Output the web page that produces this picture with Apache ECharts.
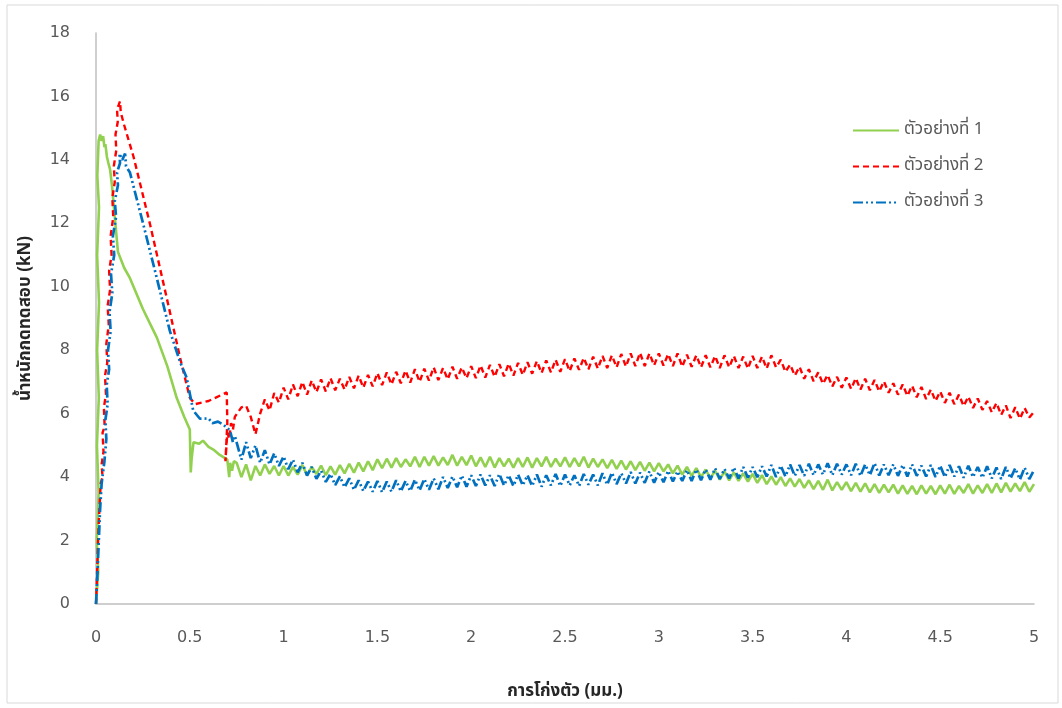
<!DOCTYPE html>
<html>
<head>
<meta charset="utf-8">
<script src="https://cdn.jsdelivr.net/npm/echarts@6/dist/echarts.min.js"></script>
<style>
  html, body { margin: 0; padding: 0; background: #fff; }
  #chart { width: 1062px; height: 708px; }
</style>
</head>
<body>
<div id="chart"></div>
<script>
// series names (legend)
const names = ['ตัวอย่างที่ 1', 'ตัวอย่างที่ 2', 'ตัวอย่างที่ 3'];

// x ticks
const xTicks = [0, 0.5, 1, 1.5, 2, 2.5, 3, 3.5, 4, 4.5, 5];

// first part of each curve (loading peak, drop) as [deflection, load]
const headG = [[0,0],[0.012,1],[0.004,2],[0.014,3.5],[0.005,5],[0.015,6.5],[0.006,8],[0.016,9.5],[0.006,11],
  [0.016,12.5],[0.007,13.5],[0.014,14.6],[0.022,14.8],[0.03,14.6],[0.038,14.75],[0.045,14.4],[0.05,14.5],
  [0.058,14.1],[0.066,13.9],[0.075,13.7],[0.085,13.2],[0.1,12.2],[0.117,11.1],[0.15,10.6],[0.181,10.27],
  [0.25,9.3],[0.325,8.39],[0.38,7.5],[0.43,6.5],[0.47,5.9],[0.5,5.5],[0.505,4.15],[0.51,4.6],[0.52,5.1],
  [0.53,5.15],[0.55,5.05],[0.57,5.15],[0.6,4.95],[0.63,4.85],[0.66,4.7],[0.7,4.55],[0.71,4.0],[0.715,4.45],
  [0.725,4.2],[0.735,4.5]];

const headR = [[0,0],[0.005,0.8],[0.01,1.8],[0.015,2.6],[0.02,3.2],[0.025,3.8],[0.035,4.0],[0.03,4.4],
  [0.04,4.8],[0.035,5.4],[0.046,5.6],[0.042,6.2],[0.053,6.6],[0.048,7.2],[0.06,7.6],[0.055,8.2],[0.068,8.8],
  [0.062,9.4],[0.075,9.9],[0.07,10.5],[0.083,11.0],[0.078,11.6],[0.092,12.2],[0.087,12.8],[0.1,13.3],
  [0.095,13.8],[0.108,14.3],[0.104,14.8],[0.116,15.2],[0.112,15.6],[0.122,15.75],[0.128,15.85],[0.132,15.5],
  [0.15,15.1],[0.2,14.1],[0.288,11.97],[0.377,9.65],[0.448,7.77],[0.5,6.5],[0.528,6.3],[0.6,6.4],
  [0.697,6.67],[0.7,5.7],[0.69,4.5],[0.7,5.4],[0.71,5.2],[0.72,5.7],[0.73,5.5],[0.74,5.9]];

const headB = [[0,0],[0.008,1],[0.015,2],[0.022,3],[0.03,3.8],[0.045,4.5],[0.055,5.2],[0.05,5.8],
  [0.062,6.3],[0.057,6.9],[0.07,7.4],[0.064,8.0],[0.078,8.6],[0.072,9.2],[0.087,9.8],[0.08,10.4],
  [0.097,11.0],[0.09,11.6],[0.107,12.2],[0.1,12.7],[0.117,13.2],[0.112,13.6],[0.128,13.9],[0.125,14.2],
  [0.14,14.0],[0.155,14.2],[0.16,13.8],[0.181,13.6],[0.252,11.97],[0.323,10.3],[0.394,8.6],[0.45,7.6],
  [0.483,7.14],[0.518,6.1],[0.554,5.84],[0.6,5.85],[0.62,5.7],[0.65,5.75],[0.68,5.65],[0.714,5.47],
  [0.73,5.1],[0.74,5.3]];

// rest of each curve, sampled every 0.025 mm from 0.75 mm to 5 mm
const tailStart = 0.75, tailStep = 0.025;

const tailG = [4.45,4.0,4.4,3.9,4.35,4.05,4.4,4.1,4.35,4.05,
  4.35,4.05,4.32,4.08,4.38,4.06,4.32,4.1,4.36,4.06,
  4.34,4.08,4.38,4.12,4.42,4.14,4.46,4.18,4.5,4.22,
  4.56,4.28,4.58,4.3,4.6,4.32,4.56,4.34,4.64,4.32,
  4.64,4.36,4.66,4.36,4.62,4.38,4.7,4.36,4.64,4.38,
  4.68,4.34,4.62,4.32,4.64,4.3,4.6,4.34,4.58,4.3,
  4.6,4.32,4.62,4.3,4.6,4.34,4.64,4.32,4.58,4.34,
  4.62,4.32,4.6,4.34,4.64,4.3,4.58,4.32,4.56,4.28,
  4.54,4.26,4.52,4.24,4.5,4.22,4.48,4.2,4.46,4.18,
  4.44,4.18,4.4,4.12,4.36,4.08,4.32,4.04,4.28,4.0,
  4.24,3.96,4.2,3.92,4.18,3.9,4.15,3.88,4.12,3.86,
  4.1,3.82,4.06,3.78,4.02,3.76,4.0,3.72,3.96,3.7,
  3.94,3.66,3.9,3.62,3.88,3.6,3.92,3.58,3.84,3.6,
  3.84,3.56,3.82,3.54,3.8,3.52,3.78,3.5,3.76,3.52,
  3.76,3.48,3.74,3.47,3.72,3.46,3.74,3.48,3.72,3.46,
  3.74,3.48,3.76,3.47,3.72,3.5,3.78,3.48,3.74,3.5,
  3.78,3.5,3.8,3.52,3.82,3.54,3.8,3.56,3.84,3.54,3.78];

const tailR = [5.95,6.2,6.25,5.9,5.35,6.0,6.45,6.1,6.65,6.35,
  6.82,6.45,6.92,6.55,7.0,6.6,7.05,6.68,7.08,6.7,
  7.12,6.74,7.1,6.76,7.16,6.8,7.2,6.82,7.22,6.86,
  7.28,6.9,7.3,6.92,7.32,6.96,7.36,6.98,7.4,7.0,
  7.42,7.04,7.46,7.06,7.44,7.08,7.48,7.1,7.46,7.12,
  7.5,7.12,7.52,7.14,7.54,7.16,7.56,7.18,7.58,7.2,
  7.6,7.22,7.62,7.26,7.66,7.28,7.68,7.3,7.7,7.32,
  7.72,7.34,7.74,7.38,7.76,7.4,7.8,7.42,7.82,7.44,
  7.84,7.46,7.88,7.48,7.9,7.5,7.92,7.5,7.9,7.52,
  7.9,7.52,7.88,7.5,7.9,7.48,7.86,7.48,7.84,7.46,
  7.84,7.46,7.82,7.44,7.84,7.46,7.82,7.44,7.8,7.42,
  7.82,7.44,7.8,7.42,7.84,7.46,7.7,7.32,7.55,7.2,
  7.48,7.1,7.4,7.02,7.3,6.94,7.22,6.86,7.16,6.82,
  7.14,6.78,7.12,6.76,7.1,6.74,7.06,6.7,7.02,6.66,
  6.96,6.6,6.92,6.56,6.88,6.52,6.84,6.46,6.76,6.4,
  6.7,6.34,6.66,6.3,6.6,6.24,6.54,6.18,6.48,6.12,
  6.4,6.04,6.34,5.96,6.26,5.86,6.2,5.84,6.18,5.88,6.06];

const tailB = [5.25,4.55,5.1,4.6,5.0,4.45,4.85,4.4,4.75,4.35,
  4.65,4.25,4.55,4.15,4.45,4.05,4.32,3.95,4.2,3.85,
  4.1,3.75,4.02,3.68,3.96,3.6,3.9,3.56,3.86,3.54,
  3.88,3.52,3.86,3.54,3.9,3.55,3.88,3.56,3.92,3.58,
  3.94,3.6,3.96,3.62,4.0,3.66,4.02,3.68,4.05,3.7,
  4.06,3.72,4.08,3.74,4.06,3.72,4.1,3.74,4.06,3.72,
  4.08,3.74,4.06,3.72,4.08,3.7,4.06,3.74,4.1,3.72,
  4.08,3.74,4.06,3.72,4.1,3.76,4.08,3.74,4.12,3.76,
  4.14,3.78,4.12,3.8,4.16,3.8,4.14,3.82,4.18,3.82,
  4.16,3.84,4.2,3.86,4.18,3.88,4.22,3.88,4.24,3.9,
  4.24,3.92,4.28,3.94,4.26,3.96,4.3,3.96,4.32,3.98,
  4.32,4.0,4.34,4.02,4.38,4.0,4.36,4.02,4.4,4.04,
  4.38,4.04,4.42,4.06,4.4,4.08,4.44,4.06,4.42,4.08,
  4.4,4.06,4.42,4.04,4.4,4.06,4.44,4.05,4.4,4.06,
  4.4,4.04,4.38,4.02,4.4,4.04,4.36,4.02,4.38,4.0,
  4.36,4.0,4.38,4.02,4.34,3.98,4.36,4.0,4.32,3.98,
  4.34,3.96,4.3,3.94,4.32,3.96,4.28,3.92,4.3,3.94,4.22];

const colors = ['#92D050', '#FF0000', '#0070C0'];

function joinCurve(head, tail) {
  const pts = head.slice();
  tail.forEach((v, i) => pts.push([+(tailStart + i * tailStep).toFixed(3), v]));
  return pts;
}

const chart = echarts.init(document.getElementById('chart'));

const labelFont = 'DejaVu Sans, sans-serif';
const thaiFont = 'Noto Sans Thai, Tahoma, Noto Sans, DejaVu Sans, sans-serif';

function makeSeries(name, data, color, type, width) {
  return {
    name, type: 'line', data,
    symbol: 'none', showSymbol: false,
    lineStyle: { color, width, type },
    itemStyle: { color },
    animation: false
  };
}

chart.setOption({
  animation: false,
  backgroundColor: '#fff',
  graphic: [{
    type: 'rect',
    shape: { x: 7, y: 5, width: 1051, height: 698 },
    style: { fill: 'none', stroke: '#D9D9D9', lineWidth: 1 },
    silent: true
  }],
  grid: { left: 96, right: 28, top: 33, bottom: 104, containLabel: false },
  legend: {
    data: names,
    orient: 'vertical',
    left: 847, top: 117,
    itemWidth: 46, itemHeight: 14, itemGap: 19,
    itemStyle: { opacity: 0 },
    lineStyle: { width: 2 },
    textStyle: { fontFamily: thaiFont, fontSize: 17, color: '#595959' }
  },
  xAxis: {
    type: 'value',
    min: xTicks[0], max: xTicks[xTicks.length - 1], interval: 0.5,
    name: 'การโก่งตัว (มม.)',
    nameLocation: 'middle', nameGap: 80,
    nameTextStyle: { fontFamily: thaiFont, fontSize: 17, fontWeight: 'bold', color: '#262626' },
    axisLine: { show: true, lineStyle: { color: '#BFBFBF', width: 1.5 } },
    axisTick: { show: false },
    splitLine: { show: false },
    axisLabel: { margin: 26, fontFamily: labelFont, fontSize: 16, color: '#595959' }
  },
  yAxis: {
    type: 'value',
    min: 0, max: 18, interval: 2,
    name: 'น้ำหนักกดทดสอบ (kN)',
    nameLocation: 'middle', nameGap: 61,
    nameTextStyle: { fontFamily: thaiFont, fontSize: 17, fontWeight: 'bold', color: '#262626' },
    axisLine: { show: true, lineStyle: { color: '#BFBFBF', width: 1.5 } },
    axisTick: { show: false },
    splitLine: { show: false },
    axisLabel: { margin: 26, fontFamily: labelFont, fontSize: 16, color: '#595959' }
  },
  series: [
    makeSeries(names[0], joinCurve(headG, tailG), colors[0], 'solid', 2.6),
    makeSeries(names[1], joinCurve(headR, tailR), colors[1], [6, 4], 2.4),
    makeSeries(names[2], joinCurve(headB, tailB), colors[2], [10, 3, 2, 3, 2, 3], 2.7)
  ]
});
</script>
</body>
</html>
